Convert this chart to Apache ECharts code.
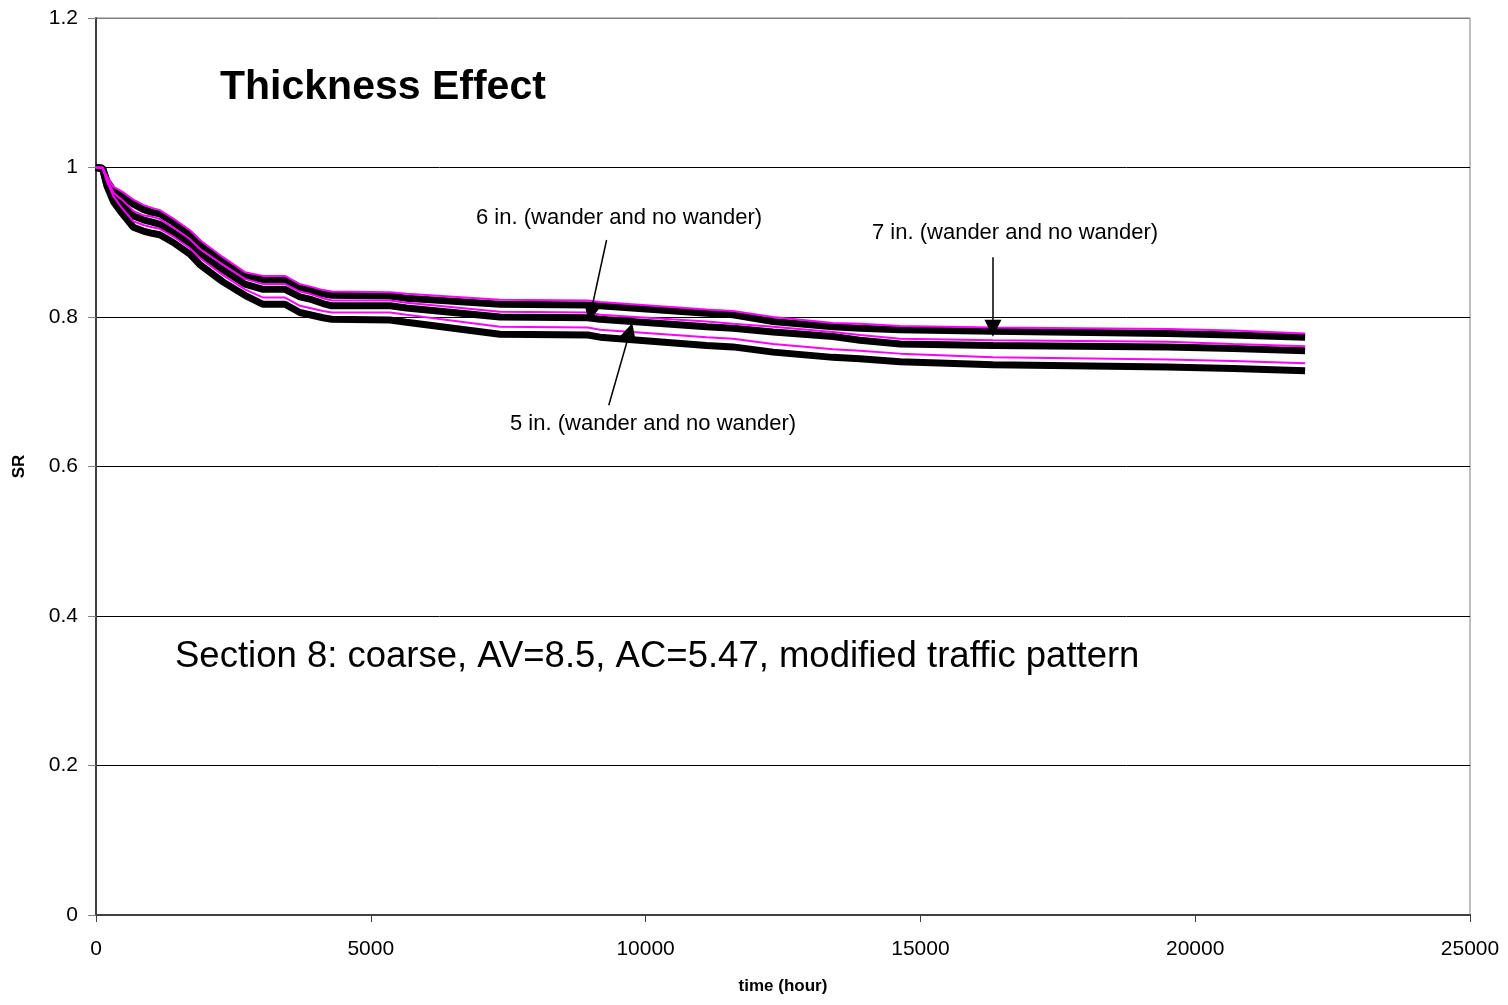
<!DOCTYPE html>
<html>
<head>
<meta charset="utf-8">
<script src="https://cdn.jsdelivr.net/npm/echarts@6/dist/echarts.min.js"></script>
<style>
html,body{margin:0;padding:0;background:#fff;}
#chart{width:1508px;height:1005px;}
</style>
</head>
<body>
<div id="chart"></div>
<script>
// time (hour)
const hours = [0, 120, 200, 320, 470, 680, 860, 1020, 1160, 1400, 1710, 1890, 2310, 2710, 3040, 3440, 3710, 3890, 4130, 4290, 5350, 5650, 7350, 8950, 9170, 11110, 11590, 12320, 13410, 13900, 14630, 16320, 19490, 20690, 22000];
// SR, 7 in.
const sr7Wander = [1.000, 1.000, 0.988, 0.974, 0.968, 0.957, 0.950, 0.946, 0.943, 0.932, 0.916, 0.903, 0.880, 0.860, 0.855, 0.855, 0.844, 0.841, 0.836, 0.834, 0.833, 0.831, 0.823, 0.822, 0.820, 0.810, 0.808, 0.800, 0.792, 0.791, 0.788, 0.786, 0.784, 0.782, 0.778];
const sr7NoWander = [1.000, 0.999, 0.982, 0.969, 0.962, 0.951, 0.944, 0.940, 0.938, 0.927, 0.911, 0.898, 0.875, 0.855, 0.850, 0.850, 0.839, 0.836, 0.831, 0.829, 0.828, 0.825, 0.817, 0.816, 0.815, 0.805, 0.803, 0.794, 0.787, 0.785, 0.783, 0.781, 0.778, 0.776, 0.773];
// SR, 6 in.
const sr6Wander = [1.000, 1.000, 0.984, 0.966, 0.957, 0.942, 0.936, 0.934, 0.931, 0.920, 0.904, 0.891, 0.870, 0.851, 0.844, 0.844, 0.834, 0.831, 0.825, 0.822, 0.822, 0.819, 0.807, 0.806, 0.803, 0.794, 0.791, 0.787, 0.780, 0.776, 0.771, 0.769, 0.767, 0.764, 0.761];
const sr6NoWander = [1.000, 0.999, 0.977, 0.960, 0.950, 0.935, 0.930, 0.927, 0.924, 0.913, 0.898, 0.884, 0.863, 0.844, 0.837, 0.837, 0.827, 0.824, 0.818, 0.815, 0.815, 0.812, 0.800, 0.799, 0.797, 0.787, 0.785, 0.780, 0.774, 0.769, 0.764, 0.762, 0.760, 0.758, 0.755];
// SR, 5 in.
const sr5Wander = [1.000, 0.999, 0.981, 0.961, 0.946, 0.928, 0.923, 0.920, 0.918, 0.908, 0.892, 0.879, 0.856, 0.837, 0.826, 0.826, 0.815, 0.812, 0.808, 0.806, 0.806, 0.803, 0.787, 0.786, 0.783, 0.773, 0.771, 0.764, 0.757, 0.755, 0.751, 0.746, 0.743, 0.741, 0.738];
const sr5NoWander = [1.000, 0.998, 0.975, 0.954, 0.939, 0.920, 0.915, 0.912, 0.910, 0.900, 0.884, 0.870, 0.847, 0.829, 0.817, 0.817, 0.806, 0.803, 0.799, 0.797, 0.796, 0.793, 0.777, 0.776, 0.773, 0.762, 0.760, 0.753, 0.746, 0.744, 0.740, 0.736, 0.733, 0.731, 0.728];

// annotation texts and arrow endpoints (data coordinates: [hour, SR])
const labels = ['6 in. (wander and no wander)', '7 in. (wander and no wander)', '5 in. (wander and no wander)'];
const arrow6 = [[9290, 0.903], [9000, 0.805]];
const arrow7 = [[16320, 0.880], [16320, 0.785]];
const arrow5 = [[9330, 0.682], [9716, 0.781]];

const FONT = '"Liberation Sans", Arial, sans-serif';
const pair = arr => hours.map((h, i) => [h, arr[i]]);

const chart = echarts.init(document.getElementById('chart'));
const blackLine = (name, arr) => ({
  name, type: 'line', data: pair(arr), showSymbol: false, symbol: 'none',
  lineStyle: { color: '#000', width: 7 }, itemStyle: { color: '#000' }, z: 2, silent: true
});
const pinkLine = (name, arr) => ({
  name, type: 'line', data: pair(arr), showSymbol: false, symbol: 'none',
  lineStyle: { color: '#FF00FF', width: 2 }, itemStyle: { color: '#FF00FF' }, z: 3, silent: true
});

const series = [
  blackLine('7 in. no wander', sr7NoWander),
  blackLine('6 in. no wander', sr6NoWander),
  blackLine('5 in. no wander', sr5NoWander),
  pinkLine('7 in. wander', sr7Wander),
  pinkLine('6 in. wander', sr6Wander),
  pinkLine('5 in. wander', sr5Wander)
];
series[5].markLine = {
  silent: true, animation: false,
  symbol: ['none', 'triangle'], symbolSize: 17,
  label: { show: false },
  lineStyle: { color: '#000', width: 1.5, type: 'solid' },
  itemStyle: { color: '#000' },
  data: [
    [{ coord: arrow6[0] }, { coord: arrow6[1] }],
    [{ coord: arrow7[0] }, { coord: arrow7[1] }],
    [{ coord: arrow5[0] }, { coord: arrow5[1] }]
  ],
  z: 5
};

chart.setOption({
  animation: false,
  backgroundColor: '#fff',
  grid: { left: 96, right: 38, top: 18, bottom: 90, containLabel: false, outerBoundsMode: 'none', show: true, borderColor: '#808080', borderWidth: 1, backgroundColor: 'transparent' },
  xAxis: {
    type: 'value', min: 0, max: 25000, interval: 5000,
    name: 'time (hour)', nameLocation: 'middle', nameGap: 63,
    nameTextStyle: { fontFamily: FONT, fontWeight: 'bold', fontSize: 17, color: '#000' },
    axisLine: { show: true, lineStyle: { color: '#404040', width: 2 } },
    axisTick: { show: true, inside: false, length: 7, lineStyle: { color: '#404040' } },
    axisLabel: { fontFamily: FONT, fontSize: 21, color: '#000', margin: 24, formatter: v => String(v) },
    splitLine: { show: false }
  },
  yAxis: {
    type: 'value', min: 0, max: 1.2, interval: 0.2,
    name: 'SR', nameLocation: 'middle', nameGap: 68, nameRotate: 90,
    nameTextStyle: { fontFamily: FONT, fontWeight: 'bold', fontSize: 17, color: '#000' },
    axisLine: { show: true, lineStyle: { color: '#404040', width: 2 } },
    axisTick: { show: true, inside: false, length: 8, lineStyle: { color: '#808080' } },
    axisLabel: { fontFamily: FONT, fontSize: 21, color: '#000', margin: 18 },
    splitLine: { show: true, lineStyle: { color: ['#000', '#000', '#000', '#000', '#000', '#000', '#808080'], width: 1 } }
  },
  graphic: [
    { type: 'text', z: 10, style: { x: 220, y: 88, text: 'Thickness Effect', font: 'bold 41px ' + FONT, fill: '#000', verticalAlign: 'middle' } },
    { type: 'text', z: 10, style: { x: 175, y: 657, text: 'Section 8: coarse, AV=8.5, AC=5.47, modified traffic pattern', font: '36.5px ' + FONT, fill: '#000', verticalAlign: 'middle' } },
    { type: 'text', z: 10, style: { x: 476, y: 218, text: labels[0], font: '22px ' + FONT, fill: '#000', verticalAlign: 'middle' } },
    { type: 'text', z: 10, style: { x: 872, y: 233, text: labels[1], font: '22px ' + FONT, fill: '#000', verticalAlign: 'middle' } },
    { type: 'text', z: 10, style: { x: 510, y: 424, text: labels[2], font: '22px ' + FONT, fill: '#000', verticalAlign: 'middle' } }
  ],
  series
});
</script>
</body>
</html>
